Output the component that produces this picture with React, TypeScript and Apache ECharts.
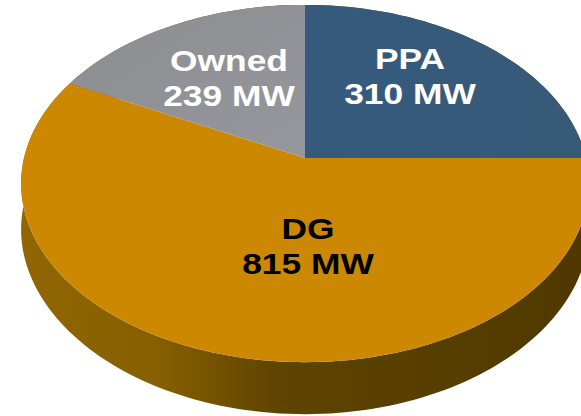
import React, { useEffect, useRef } from "react";
import * as echarts from "echarts";

// Values printed on the picture
const sliceNames = ["PPA", "DG", "Owned"];
const sliceMW = [310, 815, 239];
// Sweep of each slice in degrees, as drawn in the picture (clockwise from 12 o'clock)
const sliceSweep = [90, 207, 63];

const FACE_FILLS: any[] = [
  new echarts.graphic.LinearGradient(0, 0, 1, 0, [
    { offset: 0, color: "#365a7d" },
    { offset: 1, color: "#385a79" },
  ]),
  "#cc8800",
  new echarts.graphic.LinearGradient(0, 0, 1, 1, [
    { offset: 0, color: "#8b8d90" },
    { offset: 1, color: "#95979d" },
  ]),
];
const LABEL_COLORS = ["#ffffff", "#000000", "#ffffff"];
const LABEL_AT = [
  [410, 77],
  [308, 247],
  [229, 79],
];
const RIM_FILL = new echarts.graphic.LinearGradient(0, 0, 1, 0, [
  { offset: 0, color: "#906600" },
  { offset: 0.24, color: "#875f00" },
  { offset: 0.45, color: "#5f4400" },
  { offset: 1, color: "#4f3800" },
]);

// Perspective projection of the unit disc on to the picture
const APEX_X = 305;
const APEX_Y = 158;
const SPAN_X = 281;
const SPAN_Y = 175;
const TILT = 1 / 7;
const DEPTH = 52;
const DEPTH_SIDE_LOSS = 0.12;

function project(deg: number): [number, number] {
  const a = (deg * Math.PI) / 180;
  const u = Math.sin(a);
  const v = Math.cos(a);
  const w = 1 + TILT * v;
  return [APEX_X + (SPAN_X * u) / w, APEX_Y - (SPAN_Y * v) / w];
}

function rimDepth(deg: number): number {
  const u = Math.sin((deg * Math.PI) / 180);
  return DEPTH * (1 - DEPTH_SIDE_LOSS * u * u);
}

function renderSlice(params: any, api: any) {
  const i = params.dataIndex;
  const sweep = api.value(1);
  let start = 0;
  for (let k = 0; k < i; k++) start += sliceSweep[k];
  const steps = Math.ceil(sweep / 1.5);
  const angles: number[] = [];
  for (let s = 0; s <= steps; s++) angles.push(start + (sweep * s) / steps);
  const arc = angles.map((deg) => project(deg));
  const rimLower = angles
    .map((deg) => {
      const [x, y] = project(deg);
      return [x, y + rimDepth(deg)];
    })
    .reverse();
  const [lx, ly] = LABEL_AT[i];
  return {
    type: "group",
    children: [
      {
        type: "polygon",
        z2: 1,
        shape: { points: [...arc, ...rimLower] },
        style: { fill: RIM_FILL },
      },
      {
        type: "polygon",
        z2: 2,
        shape: { points: [[APEX_X, APEX_Y], ...arc] },
        style: { fill: FACE_FILLS[i] },
      },
      {
        type: "text",
        z2: 3,
        x: lx,
        y: ly,
        scaleX: 1.22,
        style: {
          text: `${sliceNames[i]}\n${api.value(0)} MW`,
          fill: LABEL_COLORS[i],
          font: 'bold 29px "Liberation Sans", Arial, sans-serif',
          lineHeight: 35,
          align: "center",
          verticalAlign: "middle",
        },
      },
    ],
  };
}

export default function App() {
  const ref = useRef<HTMLDivElement>(null);
  useEffect(() => {
    const chart = echarts.init(ref.current!, null, { renderer: "svg" });
    chart.setOption({
      animation: false,
      backgroundColor: "#ffffff",
      series: [
        {
          type: "custom",
          coordinateSystem: "none",
          silent: true,
          renderItem: renderSlice,
          data: sliceMW.map((mw, i) => [mw, sliceSweep[i]]),
        },
      ],
    });
    return () => chart.dispose();
  }, []);
  return (
    <div
      ref={ref}
      style={{ position: "absolute", left: 0, top: 0, width: 581, height: 416, overflow: "hidden" }}
    />
  );
}
